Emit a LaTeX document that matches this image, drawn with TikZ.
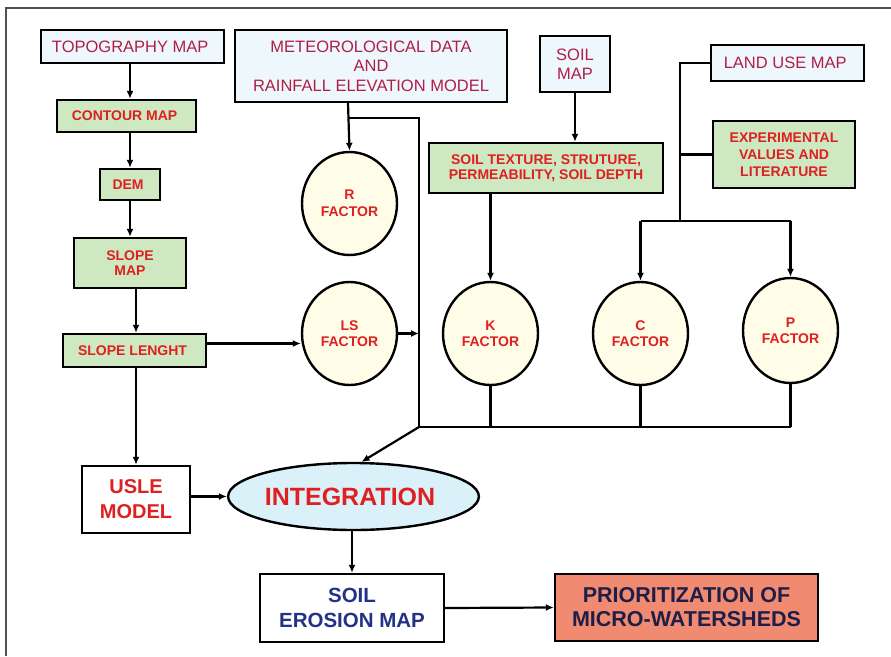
\documentclass[tikz,border=0pt]{standalone}
\usepackage{fontspec}
\setmainfont{Liberation Sans}
\usetikzlibrary{arrows.meta,shapes.geometric}
\usepackage{xcolor}

\definecolor{boxblue}{RGB}{238,248,252}
\definecolor{boxgreen}{RGB}{206,232,194}
\definecolor{factorcream}{RGB}{255,252,232}
\definecolor{integrationblue}{RGB}{218,241,250}
\definecolor{salmon}{RGB}{240,138,112}
\definecolor{textcrimson}{RGB}{176,30,72}
\definecolor{textred}{RGB}{222,32,32}
\definecolor{textblue}{RGB}{35,50,135}
\definecolor{textnavy}{RGB}{30,30,72}
\definecolor{framegray}{RGB}{80,80,80}

\begin{document}
\begin{tikzpicture}[x=1pt, y=-1pt,
    every node/.style={
        rectangle,
        draw,
        line width=2.4pt,
        inner sep=0pt,
        align=center
    },
    bluebox/.style={fill=boxblue, text=textcrimson,
        font=\fontsize{16.5}{19.5}\selectfont},
    greenbox/.style={fill=boxgreen, text=textred,
        font=\bfseries\fontsize{14}{15.5}\selectfont},
    factor/.style={ellipse, fill=factorcream, text=textred,
        minimum width=95pt, minimum height=103pt,
        font=\bfseries\fontsize{14}{15.5}\selectfont},
    link/.style={line width=2.2pt, -{Latex[length=8pt,width=7pt]}},
    wire/.style={line width=2.2pt}
]
    \useasboundingbox (0,0) rectangle (891,656);
    \draw[framegray, line width=2.4pt] (6,656) -- (6,8) -- (891,8);

    \node (topography_map) [bluebox, minimum width=183pt, minimum height=33pt, shift={(132.5, 46.5)}]
    {
        TOPOGRAPHY MAP
    };
    \node (meteorological_data) [bluebox, minimum width=272pt, minimum height=72pt, shift={(371, 66)}]
    {
        METEOROLOGICAL DATA\\AND\\RAINFALL ELEVATION MODEL
    };
    \node (soil_map) [bluebox, minimum width=70pt, minimum height=56pt, shift={(575, 64)}]
    {
        SOIL\\MAP
    };
    \node (land_use_map) [bluebox, minimum width=153pt, minimum height=36pt, shift={(787.5, 63)}]
    {
        LAND USE MAP
    };
    \node (contour_map) [greenbox, minimum width=139pt, minimum height=32pt, shift={(126.5, 116)}]
    {
        CONTOUR MAP
    };
    \node (dem) [greenbox, minimum width=60pt, minimum height=31pt, shift={(130, 184.5)}]
    {
        DEM
    };
    \node (slope_map) [greenbox, minimum width=112pt, minimum height=50pt, shift={(130, 263)}]
    {
        SLOPE\\MAP
    };
    \node (slope_lenght) [greenbox, minimum width=143pt, minimum height=33pt, shift={(134.5, 350.5)}]
    {
        SLOPE LENGHT
    };
    \node (soil_texture) [greenbox, minimum width=234pt, minimum height=50pt, shift={(546, 168)}]
    {
        SOIL TEXTURE, STRUTURE,\\PERMEABILITY, SOIL DEPTH
    };
    \node (experimental_values) [greenbox, minimum width=142pt, minimum height=67pt, shift={(784, 154.5)},
        font=\bfseries\fontsize{14}{17}\selectfont]
    {
        EXPERIMENTAL\\VALUES AND\\LITERATURE
    };
    \node (r_factor) [factor, shift={(349.5, 203.5)}, font=\bfseries\fontsize{14}{17}\selectfont]
    {
        R\\FACTOR
    };
    \node (ls_factor) [factor, shift={(349.5, 333.5)}]
    {
        LS\\FACTOR
    };
    \node (k_factor) [factor, shift={(490.5, 333.5)}]
    {
        K\\FACTOR
    };
    \node (c_factor) [factor, shift={(640.5, 333.5)}]
    {
        C\\FACTOR
    };
    \node (p_factor) [factor, shift={(790.5, 330.5)}, minimum height=105pt]
    {
        P\\FACTOR
    };
    \node (usle_model) [fill=white, text=textred, minimum width=108pt, minimum height=67pt, shift={(136, 499.5)},
        font=\bfseries\fontsize{20}{25}\selectfont]
    {
        USLE\\MODEL
    };
    \node (integration) [ellipse, fill=integrationblue, text=textred, minimum width=244pt, minimum height=67pt,
        shift={(353.5, 496.5)}, font=\bfseries\fontsize{25}{28}\selectfont]
    {
        INTEGRATION
    };
    \node (soil_erosion_map) [fill=white, text=textblue, minimum width=184pt, minimum height=68pt, shift={(352, 608)},
        font=\bfseries\fontsize{20.5}{25}\selectfont]
    {
        SOIL\\EROSION MAP
    };
    \node (prioritization) [fill=salmon, text=textnavy, minimum width=263pt, minimum height=67pt, shift={(686.5, 607.5)},
        font=\bfseries\fontsize{21.5}{24}\selectfont]
    {
        PRIORITIZATION OF\\MICRO-WATERSHEDS
    };

    \coordinate (r_branch) at (348, 118);
    \coordinate (junction) at (419, 427);
    \coordinate (land_split) at (680, 221);

    % left column
    \draw[link] (topography_map.south -| dem) to (contour_map.north -| dem);
    \draw[link] (contour_map.south -| dem) to (dem.north);
    \draw[link] (dem.south) to (slope_map.north);
    \draw[link] (slope_map.south -| usle_model) to (slope_lenght.north -| usle_model);
    \draw[link] (slope_lenght.south -| usle_model) to (usle_model.north);
    \draw[link] ([yshift=7pt]slope_lenght.east) to ([yshift=7pt]slope_lenght.east -| ls_factor.west);

    % rainfall and collector
    \draw[link] (meteorological_data.south -| r_branch) to (r_factor.north);
    \draw[wire] (r_branch) -| (junction);
    \draw[link] (ls_factor.east) to (ls_factor.east -| junction);

    % soil
    \draw[link] (soil_map.south) to (soil_map.south |- soil_texture.north);
    \draw[link] (soil_texture.south -| k_factor) to (k_factor.north);

    % land use
    \draw[wire] (land_use_map.west) -| (land_split);
    \draw[wire] (experimental_values.west) to (experimental_values.west -| land_split);
    \draw[wire] (c_factor.north |- land_split) to (p_factor.north |- land_split);
    \draw[link] (c_factor.north |- land_split) to (c_factor.north);
    \draw[link] (p_factor.north |- land_split) to (p_factor.north);

    % factors to integration
    \draw[wire] (k_factor.south) to (k_factor.south |- junction);
    \draw[wire] (c_factor.south) to (c_factor.south |- junction);
    \draw[wire] (p_factor.south) to (p_factor.south |- junction);
    \draw[wire] (junction) to (junction -| p_factor);
    \draw[link] (junction) to (integration.77);
    \draw[link] (usle_model.east |- integration) to (integration.west);
    \draw[link] (integration.south -| soil_erosion_map) to (soil_erosion_map.north);
    \draw[link] (soil_erosion_map.east) to (prioritization.west);
\end{tikzpicture}
\end{document}
